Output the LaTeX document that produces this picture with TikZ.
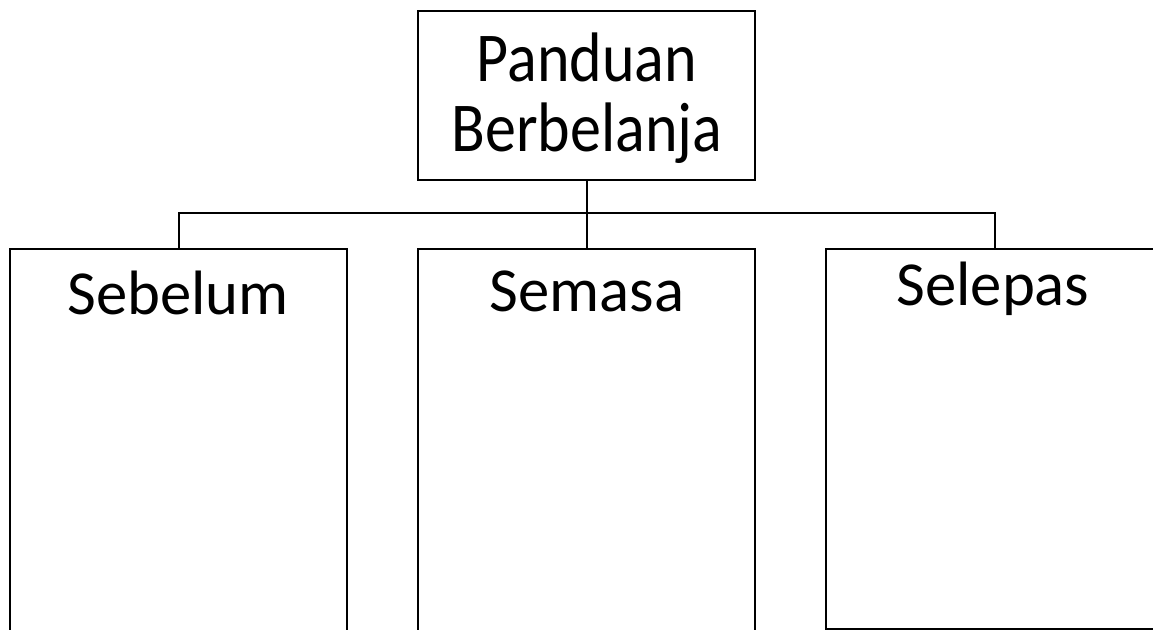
\documentclass[tikz,border=0pt]{standalone}
\usepackage{fontspec}
\setmainfont{Carlito}
\usepackage{tikz}
\usetikzlibrary{positioning}

\tikzset{
  box/.style={draw, line width=1.5pt, inner sep=0pt, anchor=north west,
    minimum width=252.75pt},
  lbl/.style={font=\fontsize{47}{50}\selectfont, anchor=base},
  title/.style={inner sep=0pt, font=\fontsize{46.5}{46.5}\selectfont},
  link/.style={line width=1.5pt}
}

\begin{document}
\begin{tikzpicture}[x=0.75pt,y=0.75pt,yscale=-1,xscale=1]
\useasboundingbox (0,0) rectangle (1153,629);
\clip (0,0) rectangle (1153,629);

% top box
\node[box, minimum height=126.75pt] (guide) at (417,10) {};
\node[title] (guideText) at (587,102.7)
  {\scalebox{1}[1.13]{\begin{tabular}{@{}c@{}}Panduan\\Berbelanja\end{tabular}}};

% lower boxes
\node[box, minimum height=315pt] (before) at (9,248) {};
\node[box, minimum height=315pt] (during) at (417,248) {};
\node[box, minimum height=285pt] (after) at (825,248) {};

% titles
\node[lbl] (beforeText) at (178,314) {Sebelum};
\node[lbl] (duringText) at (587,311) {Semasa};
\node[lbl] (afterText) at (993,305) {Selepas};

% connectors
\draw[link] (guide.south) -- (during.north);
\draw[link] (before.north) -- ++(0,-35) -| (after.north);

\end{tikzpicture}
\end{document}
